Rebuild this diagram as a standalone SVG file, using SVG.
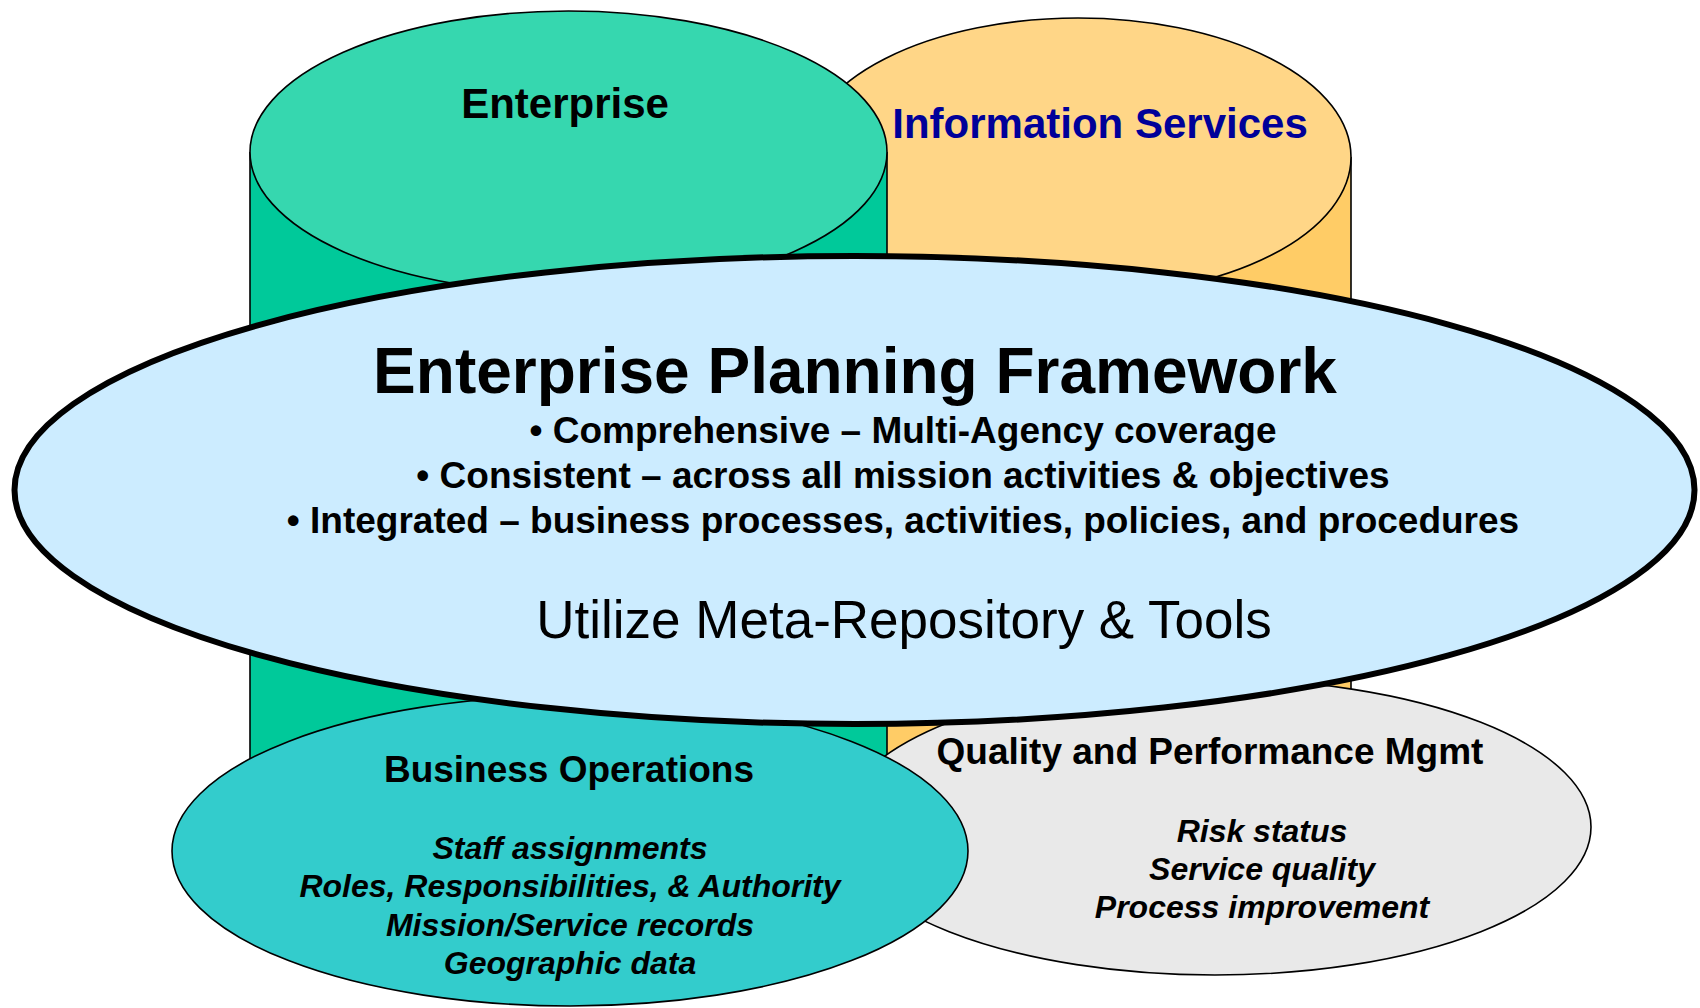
<svg xmlns="http://www.w3.org/2000/svg" width="1700" height="1008" viewBox="0 0 1700 1008">
<style>
text{font-family:"Liberation Sans",Arial,Helvetica,sans-serif;text-anchor:middle;fill:#000}
.thin{stroke:#000;stroke-width:1.6}
.b{font-weight:bold}
.bi{font-weight:bold;font-style:italic;font-size:32px}
</style>
<rect x="0" y="0" width="1700" height="1008" fill="#fff"/>
<g id="information-services">
<rect x="805" y="157" width="546" height="603" fill="#FFCC66"/>
<line class="thin" x1="1351" y1="157" x2="1351" y2="760"/>
<ellipse class="thin" cx="1078" cy="157" rx="273" ry="139" fill="#FFD687"/>
<text class="b" x="1100" y="138" font-size="42" style="fill:#000099">Information Services</text>
</g>
<g id="enterprise">
<rect x="250" y="152" width="637" height="638" fill="#00C99A"/>
<line class="thin" x1="250" y1="152" x2="250" y2="790"/>
<line class="thin" x1="887" y1="152" x2="887" y2="790"/>
<ellipse class="thin" cx="568.5" cy="152" rx="318.5" ry="141" fill="#36D7AF"/>
<text class="b" x="565" y="118" font-size="42">Enterprise</text>
</g>
<g id="quality-performance">
<ellipse class="thin" cx="1215" cy="827" rx="376" ry="148" fill="#E9E9E9"/>
<text class="b" x="1210" y="764" font-size="37">Quality and Performance Mgmt</text>
<text class="bi" x="1262" y="842">Risk status</text>
<text class="bi" x="1262" y="880">Service quality</text>
<text class="bi" x="1262" y="918">Process improvement</text>
</g>
<g id="business-operations">
<ellipse class="thin" cx="570" cy="851" rx="398" ry="155" fill="#33CCCC"/>
<text class="b" x="569" y="782" font-size="37">Business Operations</text>
<text class="bi" x="570" y="859">Staff assignments</text>
<text class="bi" x="570" y="897">Roles, Responsibilities, &amp; Authority</text>
<text class="bi" x="570" y="936">Mission/Service records</text>
<text class="bi" x="570" y="974">Geographic data</text>
</g>
<g id="enterprise-planning-framework">
<ellipse cx="854.5" cy="490" rx="840" ry="234" fill="#CCECFF" stroke="#000" stroke-width="6"/>
<text class="b" x="855" y="393" font-size="64">Enterprise Planning Framework</text>
<text class="b" x="903" y="443" font-size="37">• Comprehensive – Multi-Agency coverage</text>
<text class="b" x="903" y="488" font-size="37">• Consistent – across all mission activities &amp; objectives</text>
<text class="b" x="903" y="533" font-size="37">• Integrated – business processes, activities, policies, and procedures</text>
<text x="904" y="638" font-size="53">Utilize Meta-Repository &amp; Tools</text>
</g>
<g id="connectors"></g>
</svg>
